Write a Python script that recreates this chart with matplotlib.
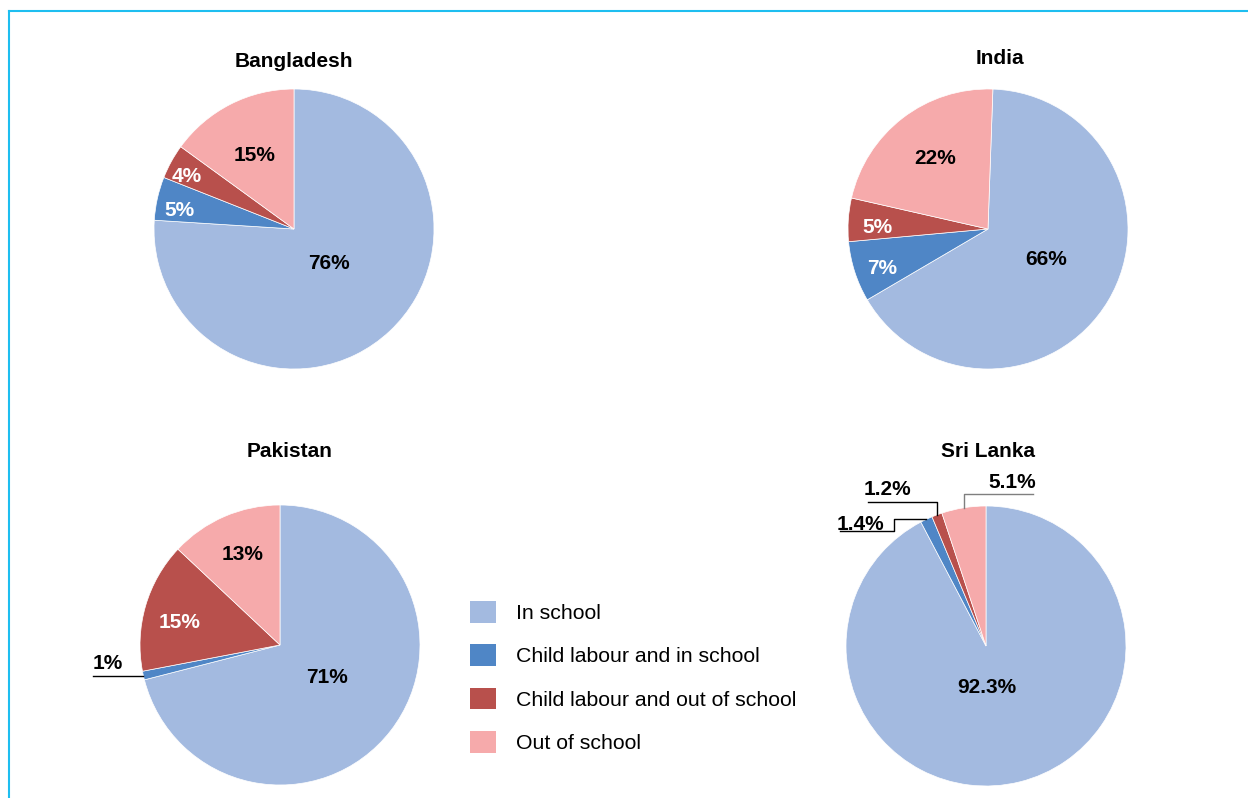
import numpy as np
import matplotlib
matplotlib.use("Agg")
import matplotlib.pyplot as plt
from matplotlib.patches import Patch
from matplotlib.lines import Line2D

plt.rcParams['font.family'] = ['Liberation Sans', 'DejaVu Sans']

# data
categories = ['In school', 'Child labour and in school',
              'Child labour and out of school', 'Out of school']
colors = ['#A3BAE0', '#4F86C6', '#B8504C', '#F6AAAB']

countries = ['Bangladesh', 'India', 'Pakistan', 'Sri Lanka']
bangladesh = [76, 5, 4, 15]
india = [66, 7, 5, 22]
pakistan = [71, 1, 15, 13]
sri_lanka = [92.3, 1.4, 1.2, 5.1]
label_fmt = ['%d%%', '%d%%', '%d%%', '%.1f%%']

# layout (pixels)
W, H = 1248, 798
R = 140.0
centers = [(294, 229), (988, 229), (280, 645), (986, 646)]
start_angles = [90, 88, 90, 90]
title_pos = [(294, 67), (1000, 64), (290, 457), (988, 457)]
# radial distance of inside labels (None -> outside label with leader)
label_dist = [[0.34, 0.83, 0.86, 0.61],
              [0.46, 0.80, 0.79, 0.64],
              [0.40, None, 0.74, 0.71],
              [0.28, None, None, None]]
# small angular nudges of inside labels (degrees)
label_turn = [[4.4, 2.2, 1.6, 0.8],
              [5.0, 1.6, 1.8, -1.6],
              [4.4, 0, 2.2, -1.4],
              [-12.4, 0, 0, 0]]
label_white = [[False, True, True, False],
               [False, True, True, False],
               [False, False, True, False],
               [False, False, False, False]]
# outside labels: text position (data units) and elbow path
outside = {
    (2, 1): ((-1.229, -0.115), [('h', -1.336)], 'black'),
    (3, 1): ((-0.90, 0.885), [('h', -0.657), ('v', 0.821), ('h', -1.043)], 'black'),
    (3, 2): ((-0.707, 1.135), [('v', 1.029), ('h', -0.843)], 'black'),
    (3, 3): ((0.186, 1.185), [('v', 1.086), ('h', 0.336)], '#7F7F7F'),
}
dy = -0.015

fig = plt.figure(figsize=(W / 100, H / 100), dpi=100)

half = 150
for i, (name, vals) in enumerate(zip(countries, [bangladesh, india, pakistan, sri_lanka])):
    cx, cy = centers[i]
    ax = fig.add_axes([(cx - half) / W, 1 - (cy + half) / H, 2 * half / W, 2 * half / H])
    wedges, _ = ax.pie(vals, colors=colors, startangle=start_angles[i], counterclock=False,
                       radius=1, wedgeprops=dict(edgecolor='white', linewidth=0.5))
    lim = half / R
    ax.set_xlim(-lim, lim)
    ax.set_ylim(-lim, lim)
    ax.set_aspect('equal')
    ax.axis('off')
    for j, w in enumerate(wedges):
        mid = np.deg2rad((w.theta1 + w.theta2) / 2)
        txt = label_fmt[i] % vals[j]
        d = label_dist[i][j]
        if d is not None:
            a = mid + np.deg2rad(label_turn[i][j])
            ax.text(d * np.cos(a), d * np.sin(a) + dy, txt, ha='center', va='center',
                    fontsize=15, fontweight='bold',
                    color='white' if label_white[i][j] else 'black')
        else:
            (tx, ty), path, lc = outside[(i, j)]
            xs, ys = [np.cos(mid)], [np.sin(mid)]
            for kind, v in path:
                if kind == 'h':
                    xs.append(v); ys.append(ys[-1])
                else:
                    xs.append(xs[-1]); ys.append(v)
            ax.plot(xs, ys, color=lc, lw=1, clip_on=False)
            ax.text(tx, ty + dy, txt, ha='center', va='center', fontsize=15,
                    fontweight='bold', color='black')
    tx, ty = title_pos[i]
    fig.text(tx / W, 1 - ty / H, name, ha='center', va='baseline',
             fontsize=15, fontweight='bold')

handles = [Patch(facecolor=c, edgecolor='none') for c in colors]
fig.legend(handles, categories, loc='upper left',
           bbox_to_anchor=(470 / W, 1 - 601 / H), frameon=False, fontsize=15.3,
           handlelength=1.2, handleheight=1.2, handletextpad=0.95,
           labelspacing=1.0, borderpad=0, borderaxespad=0)

# frame lines
frame_c = '#1EBEF0'
fig.add_artist(Line2D([9 / W, 1], [1 - 11 / H, 1 - 11 / H], color=frame_c, lw=1.5,
                      transform=fig.transFigure))
fig.add_artist(Line2D([9 / W, 9 / W], [1 - 11 / H, 0], color=frame_c, lw=1.5,
                      transform=fig.transFigure))

fig.savefig('out.png', dpi=100)
